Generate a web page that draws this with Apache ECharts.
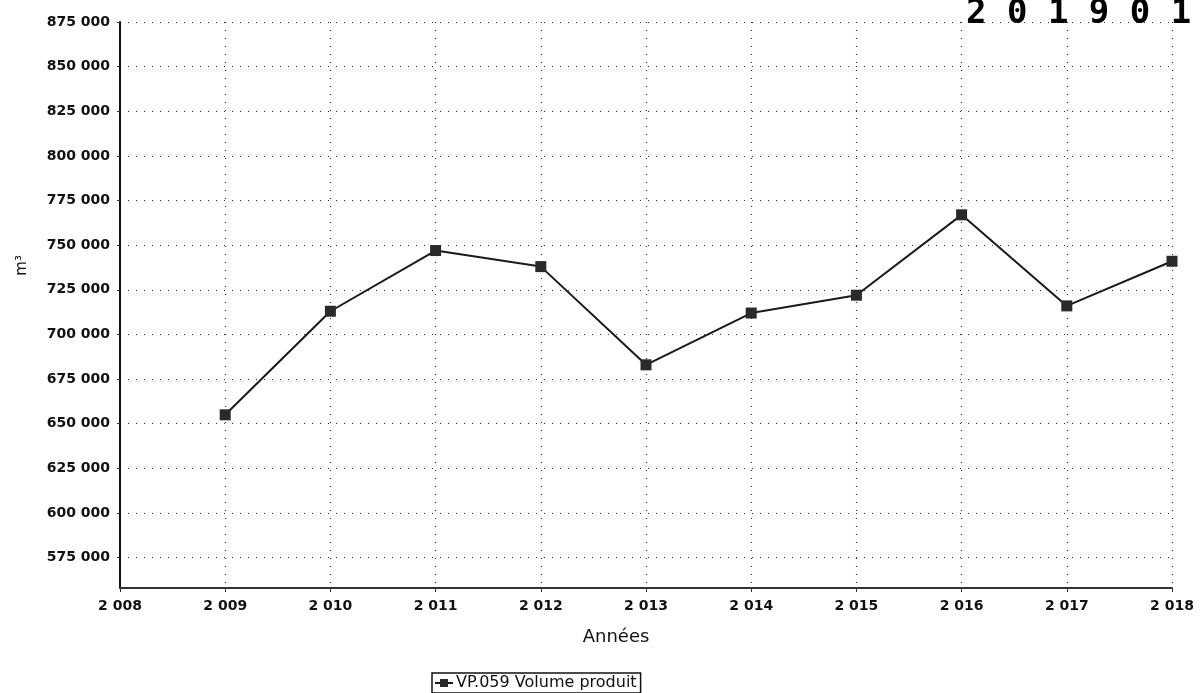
<!DOCTYPE html>
<html>
<head>
<meta charset="utf-8">
<script src="https://cdn.jsdelivr.net/npm/echarts@6/dist/echarts.min.js"></script>
<style>
  html, body { margin: 0; padding: 0; background: #fff; }
  #chart { width: 1201px; height: 693px; }
</style>
</head>
<body>
<div id="chart"></div>
<script>
// années et volume produit (m³)
const years = [2009, 2010, 2011, 2012, 2013, 2014, 2015, 2016, 2017, 2018]
const volumes = [655000, 713000, 747000, 738000, 683000, 712000, 722000, 767000, 716000, 741000]
const yTicks = [575000, 600000, 625000, 650000, 675000, 700000, 725000, 750000, 775000, 800000, 825000, 850000, 875000]
const seriesName = 'VP.059 Volume produit'

// 2 008, 750 000 ...
const spaced = v => String(v).replace(/\B(?=(\d{3})+(?!\d))/g, ' ')

const chart = echarts.init(document.getElementById('chart'))

const option = {
    backgroundColor: '#fff',
    animation: false,
    textStyle: { fontFamily: 'DejaVu Sans' },
    grid: { left: 120, right: 29, top: 22, bottom: 105 },
    xAxis: {
        type: 'value',
        min: 2008,
        max: 2018,
        interval: 1,
        name: 'Années',
        nameLocation: 'middle',
        nameGap: 40,
        nameTextStyle: { fontSize: 18, color: '#111', padding: [0, 60, 0, 0] },
        axisLine: { lineStyle: { color: '#333', width: 2 } },
        axisTick: { show: true, length: 4, lineStyle: { color: '#333' } },
        axisLabel: {
            formatter: spaced,
            fontSize: 14,
            fontWeight: 'bold',
            color: '#111',
            margin: 11
        },
        splitLine: { show: true, lineStyle: { color: '#333', type: [1, 7], width: 1.2 } }
    },
    yAxis: {
        type: 'value',
        min: 558000,
        max: 875000,
        axisLine: { show: true, lineStyle: { color: '#111', width: 2 } },
        axisTick: { show: true, length: 3, customValues: yTicks, lineStyle: { color: '#333' } },
        axisLabel: {
            customValues: yTicks,
            formatter: spaced,
            fontSize: 14,
            fontWeight: 'bold',
            color: '#111',
            margin: 10
        },
        splitLine: { show: true, lineStyle: { color: '#333', type: [1, 7], width: 1.2 } }
    },
    legend: {
        left: 432,
        bottom: 0,
        data: [seriesName],
        itemWidth: 18,
        itemHeight: 10,
        itemGap: 4,
        padding: [2, 4, 2, 2],
        borderColor: '#111',
        borderWidth: 1.5,
        textStyle: { fontSize: 16, color: '#111', padding: [0, 0, 0, -2] }
    },
    graphic: [
        {
            type: 'text',
            left: 15,
            top: 255,
            rotation: Math.PI / 2,
            style: { text: 'm³', fontSize: 15, fill: '#111', fontFamily: 'DejaVu Sans' }
        },
        {
            type: 'text',
            left: 966,
            top: -3,
            style: {
                text: '2 0 1 9 0 1 9',
                fontSize: 34,
                fontWeight: 'bold',
                fill: '#000',
                fontFamily: 'DejaVu Sans Mono'
            }
        }
    ],
    series: [{
        name: seriesName,
        type: 'line',
        data: years.map((y, i) => [y, volumes[i]]),
        symbol: 'rect',
        symbolSize: 11,
        itemStyle: { color: '#2a2a2a' },
        lineStyle: { color: '#1a1a1a', width: 2 }
    }]
}

chart.setOption(option)
</script>
</body>
</html>
